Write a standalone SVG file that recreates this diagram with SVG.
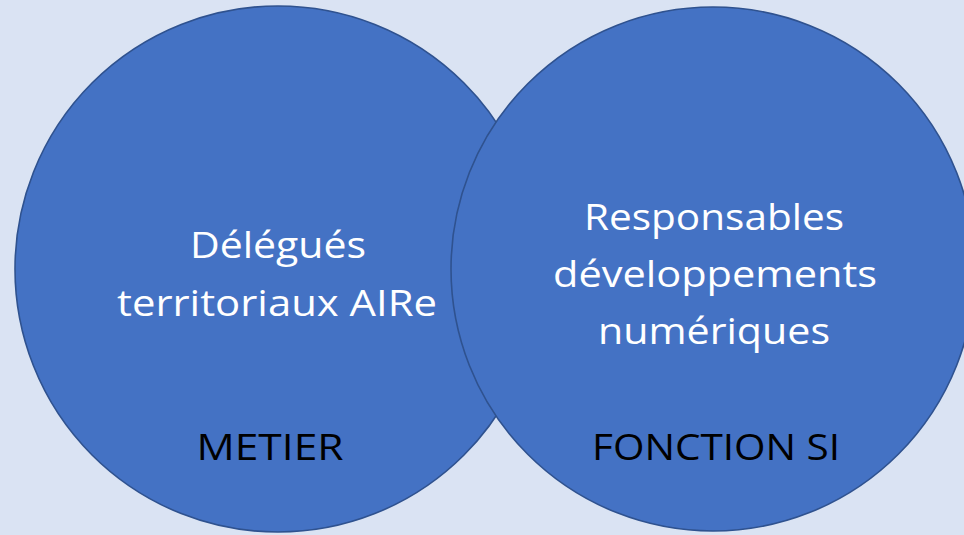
<svg xmlns="http://www.w3.org/2000/svg" width="964" height="535" viewBox="0 0 964 535">
<style>
.c{fill:#4472c4;stroke:#2f528f;stroke-width:1.6}
.t{font-family:"Open Sans","Liberation Sans",sans-serif;font-size:37px;text-anchor:middle}
.w{fill:#ffffff}
.k{fill:#000000}
</style>
<rect width="964" height="535" fill="#dae3f3"/>
<g id="metier">
<circle class="c" cx="278" cy="269" r="263"/>
</g>
<g id="fonction-si">
<circle class="c" cx="713" cy="269" r="262"/>
</g>
<g id="labels-metier">
<text class="t w" x="278" y="258" textLength="176" lengthAdjust="spacingAndGlyphs">Délégués</text>
<text class="t w" x="277" y="316" textLength="320" lengthAdjust="spacingAndGlyphs">territoriaux AIRe</text>
<text class="t k" x="270" y="460" textLength="147" lengthAdjust="spacingAndGlyphs">METIER</text>
</g>
<g id="labels-fonction">
<text class="t w" x="714" y="230" textLength="260" lengthAdjust="spacingAndGlyphs">Responsables</text>
<text class="t w" x="715" y="287" textLength="324" lengthAdjust="spacingAndGlyphs">développements</text>
<text class="t w" x="714" y="344" textLength="232" lengthAdjust="spacingAndGlyphs">numériques</text>
<text class="t k" x="716" y="460" textLength="248" lengthAdjust="spacingAndGlyphs">FONCTION SI</text>
</g>
<g id="connectors"></g>
</svg>
